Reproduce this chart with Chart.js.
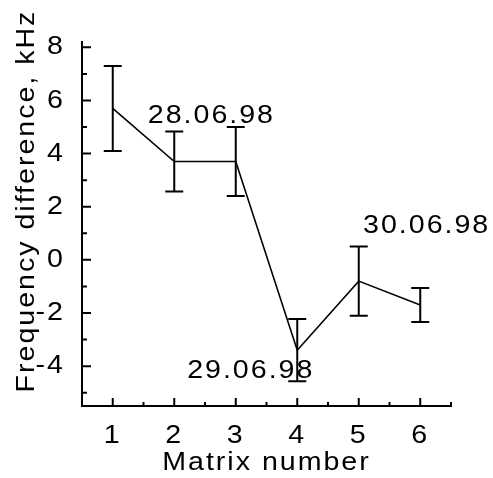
<!DOCTYPE html>
<html>
<head>
<meta charset="utf-8">
<script src="https://cdn.jsdelivr.net/npm/chart.js@4/dist/chart.umd.min.js"></script>
<style>
  html, body { margin: 0; padding: 0; background: #fff; }
  #wrap { width: 493px; height: 478px; }
</style>
</head>
<body>
<div id="wrap"><canvas id="myChart"></canvas></div>
<script>
// ***** data *****
const matrixNumbers = [1, 2, 3, 4, 5, 6]
const freqDiff = [5.7, 3.7, 3.7, -3.4, -0.8, -1.7]
const freqErr = [1.6, 1.13, 1.3, 1.17, 1.3, 0.64]
const xTicks = [1, 2, 3, 4, 5, 6]
const yTicks = [-4, -2, 0, 2, 4, 6, 8]
const xMinorTicks = [1.5, 2.5, 3.5, 4.5, 5.5, 6.5]
const yMinorTicks = [-5, -3, -1, 1, 3, 5, 7]
const dates = ["28.06.98", "29.06.98", "30.06.98"]
// where each date is written (left end of the baseline, in data units)
const dateAt = [[1.57, 5.17], [2.21, -4.45], [5.07, 1.02]]

const fontFamily = "'Liberation Sans', Arial, sans-serif"
const fontSize = 26
const spacing = "1.8px"
const stretch = 1.1 // wide lettering, stretched around the text anchor

// canvas letter spacing gets reset on resize, so put it back every time
const spacingPlugin = {
  id: "spacing",
  beforeLayout: chart => { chart.ctx.letterSpacing = spacing },
  beforeDraw: chart => { chart.ctx.letterSpacing = spacing }
}

// inward ticks on both axes
const ticksPlugin = {
  id: "inTicks",
  afterDraw: chart => {
    const { ctx, chartArea, scales } = chart
    ctx.save()
    ctx.strokeStyle = "#000"
    ctx.lineWidth = 2
    ctx.beginPath()
    xTicks.forEach(v => {
      const px = scales.x.getPixelForValue(v)
      ctx.moveTo(px, chartArea.bottom)
      ctx.lineTo(px, chartArea.bottom - 8)
    })
    xMinorTicks.forEach(v => {
      const px = scales.x.getPixelForValue(v)
      ctx.moveTo(px, chartArea.bottom)
      ctx.lineTo(px, chartArea.bottom - 4)
    })
    yTicks.forEach(v => {
      const py = scales.y.getPixelForValue(v)
      ctx.moveTo(chartArea.left, py)
      ctx.lineTo(chartArea.left + 9, py)
    })
    yMinorTicks.forEach(v => {
      const py = scales.y.getPixelForValue(v)
      ctx.moveTo(chartArea.left, py)
      ctx.lineTo(chartArea.left + 5, py)
    })
    ctx.stroke()
    ctx.restore()
  }
}

// error bars with caps
const errorBarPlugin = {
  id: "errorBars",
  afterDatasetsDraw: chart => {
    const { ctx, scales } = chart
    const cap = 9
    ctx.save()
    ctx.strokeStyle = "#000"
    ctx.lineWidth = 2
    ctx.beginPath()
    matrixNumbers.forEach((m, i) => {
      const px = scales.x.getPixelForValue(m)
      const top = scales.y.getPixelForValue(freqDiff[i] + freqErr[i])
      const bot = scales.y.getPixelForValue(freqDiff[i] - freqErr[i])
      ctx.moveTo(px, top)
      ctx.lineTo(px, bot)
      ctx.moveTo(px - cap, top)
      ctx.lineTo(px + cap, top)
      ctx.moveTo(px - cap, bot)
      ctx.lineTo(px + cap, bot)
    })
    ctx.stroke()
    ctx.restore()
  }
}

// date notes and the rotated y title
const textPlugin = {
  id: "texts",
  afterDraw: chart => {
    const { ctx, scales, chartArea } = chart
    ctx.save()
    ctx.letterSpacing = spacing
    ctx.fillStyle = "#000"
    ctx.font = fontSize + "px " + fontFamily
    ctx.textAlign = "left"
    ctx.textBaseline = "alphabetic"
    dates.forEach((d, i) => {
      ctx.fillText(d, scales.x.getPixelForValue(dateAt[i][0]), scales.y.getPixelForValue(dateAt[i][1]))
    })
    ctx.translate(27, (chartArea.top + chartArea.bottom) / 2 - 23)
    ctx.rotate(-Math.PI / 2)
    ctx.textAlign = "center"
    ctx.textBaseline = "middle"
    ctx.fillText("Frequency difference, kHz", 0, 0)
    ctx.restore()
  }
}

const ctx = document.getElementById("myChart").getContext("2d")

// every label goes through here, so all text gets the same widening
const plainFillText = ctx.fillText
ctx.fillText = function (text, x, y) {
  this.save()
  this.translate(x, y)
  this.scale(stretch, 1)
  plainFillText.call(this, text, 0, 0)
  this.restore()
}

const myChart = new Chart(ctx, {
  type: "line",
  data: {
    datasets: [{
      data: matrixNumbers.map((m, i) => ({ x: m, y: freqDiff[i] })),
      borderColor: "#000",
      borderWidth: 1.6,
      pointRadius: 0,
      tension: 0,
      fill: false
    }]
  },
  options: {
    responsive: true,
    maintainAspectRatio: false,
    animation: false,
    devicePixelRatio: 1,
    layout: { padding: { top: 42, right: 42, left: 0, bottom: 0 } },
    plugins: { legend: { display: false }, tooltip: { enabled: false } },
    scales: {
      x: {
        type: "linear",
        min: 0.5,
        max: 6.5,
        afterBuildTicks: scale => { scale.ticks = xTicks.map(v => ({ value: v })) },
        afterFit: scale => { scale.height = 72 },
        grid: { display: false },
        border: { display: true, color: "#000", width: 2 },
        ticks: { color: "#000", padding: 6, font: { size: fontSize, family: fontFamily } },
        title: {
          display: true,
          text: "Matrix number",
          color: "#000",
          padding: { top: 0, bottom: 0 },
          font: { size: fontSize, family: fontFamily }
        }
      },
      y: {
        min: -5.5,
        max: 8.2,
        afterBuildTicks: scale => { scale.ticks = yTicks.map(v => ({ value: v })) },
        afterFit: scale => { scale.width = 82 },
        grid: { display: false },
        border: { display: true, color: "#000", width: 2 },
        ticks: { color: "#000", padding: 9, font: { size: fontSize, family: fontFamily } }
      }
    }
  },
  plugins: [spacingPlugin, errorBarPlugin, ticksPlugin, textPlugin]
})
</script>
</body>
</html>
